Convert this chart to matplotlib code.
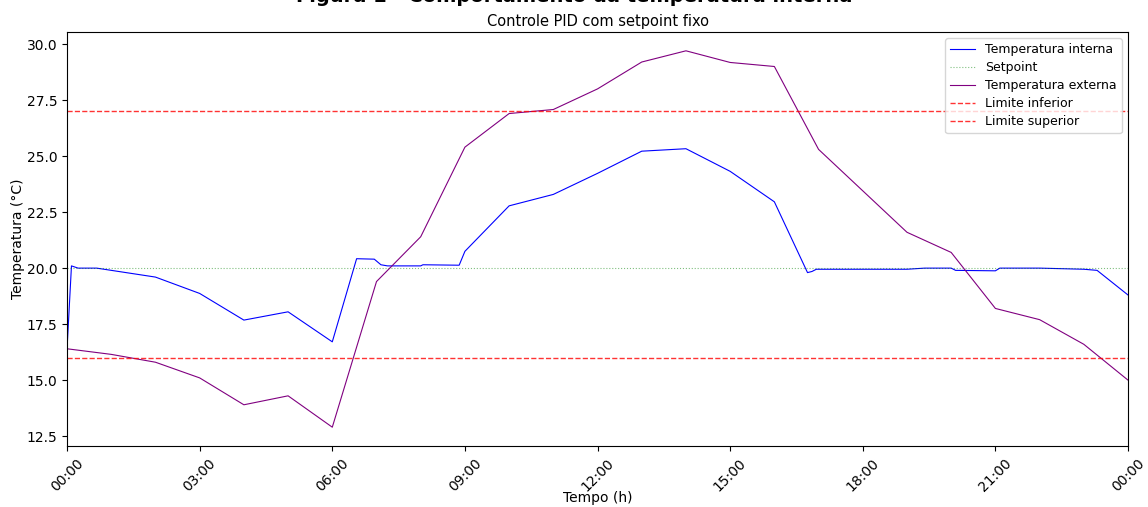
import numpy as np
import pandas as pd
import matplotlib
matplotlib.use("Agg")
import matplotlib.pyplot as plt
import matplotlib.dates as mdates

# Horas do dia (pontos da simulacao) e temperaturas
horas_interna = [0.0, 0.1, 0.25, 0.67, 2.0, 3.0, 4.0, 5.0, 6.0, 6.55, 6.95, 7.1, 7.25,
                 8.0, 8.05, 8.87, 9.0, 10.0, 11.0, 12.0, 13.0, 14.0, 15.0, 16.0,
                 16.75, 16.85, 16.95, 19.0, 19.4, 20.0, 20.1, 21.0, 21.1, 22.0,
                 23.0, 23.3, 24.0]
temp_interna = [16.4, 20.1, 20.0, 20.0, 19.6, 18.87, 17.68, 18.05, 16.71, 20.42, 20.4,
                20.15, 20.1, 20.1, 20.15, 20.13, 20.75, 22.78, 23.29, 24.23, 25.22,
                25.33, 24.32, 22.96, 19.8, 19.85, 19.95, 19.95, 20.0, 20.0, 19.9,
                19.88, 20.0, 20.0, 19.95, 19.9, 18.8]

horas_externa = list(range(25))
temp_externa = [16.4, 16.15, 15.8, 15.1, 13.9, 14.3, 12.9, 19.4, 21.4, 25.4, 26.9,
                27.08, 28.0, 29.2, 29.7, 29.18, 29.0, 25.3, 23.45, 21.6, 20.7,
                18.2, 17.7, 16.6, 15.0]

setpoint = 20.0
limite_inferior = 27.0
limite_superior = 16.0

inicio = pd.Timestamp("2024-01-01 00:00")
t_int = inicio + pd.to_timedelta(horas_interna, unit="h")
t_ext = inicio + pd.to_timedelta(horas_externa, unit="h")

fig = plt.figure(figsize=(11.48, 5.07), dpi=100)
ax = fig.add_axes([0.0584, 0.1203, 0.9242, 0.8166])

ax.plot(t_int, temp_interna, color="blue", linewidth=0.8, label="Temperatura interna")
ax.axhline(setpoint, color="green", linestyle=":", linewidth=0.8, alpha=0.5, label="Setpoint")
ax.plot(t_ext, temp_externa, color="purple", linewidth=0.8, label="Temperatura externa")
ax.axhline(limite_inferior, color="red", linestyle="--", linewidth=1, alpha=0.8, label="Limite inferior")
ax.axhline(limite_superior, color="red", linestyle="--", linewidth=1, alpha=0.8, label="Limite superior")

ax.set_xlim(t_ext[0], t_ext[-1])
ax.xaxis.set_major_locator(mdates.HourLocator(byhour=range(0, 24, 3)))
ax.xaxis.set_major_formatter(mdates.DateFormatter("%H:%M"))
plt.setp(ax.get_xticklabels(), rotation=45)

ax.set_xlabel("Tempo (h)", labelpad=-2)
ax.set_ylabel("Temperatura (°C)", labelpad=1)
ax.set_title("Controle PID com setpoint fixo", fontsize=10.5, pad=4)
fig.text(0.5, 1 - 1.5 / 507, "Figura 1 - Comportamento da temperatura interna",
         ha="center", va="baseline", fontsize=14, fontweight="bold")
ax.legend(loc="upper right", fontsize=9, labelspacing=0.4)

fig.savefig("out.png", dpi=100)
